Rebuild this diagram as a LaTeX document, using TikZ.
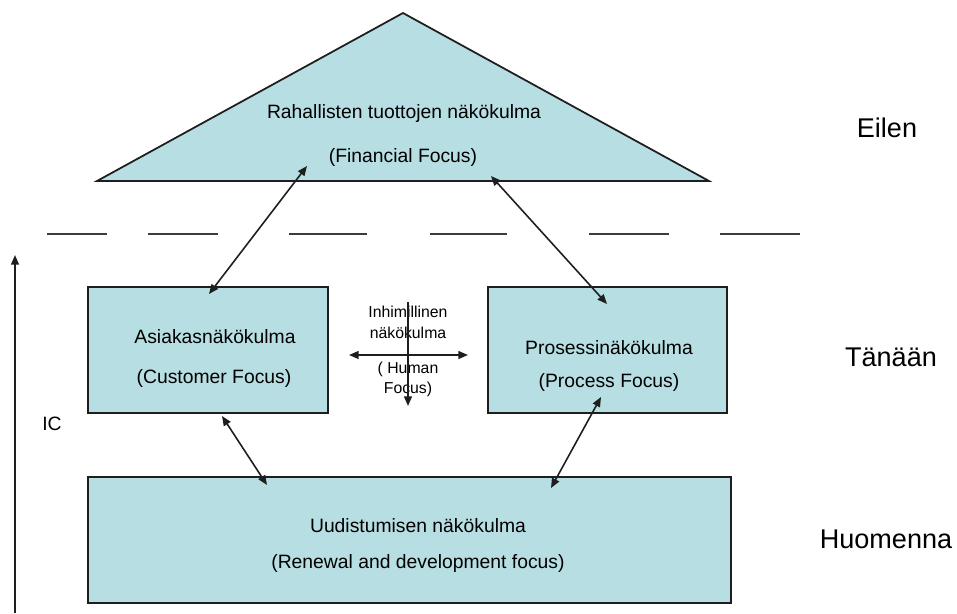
\documentclass[tikz,border=0pt]{standalone}
\usepackage{fontspec}
\setmainfont{Liberation Sans}
\usetikzlibrary{arrows.meta}
\definecolor{panel}{RGB}{183,222,226}
\definecolor{edge}{RGB}{30,30,30}
\definecolor{rule}{RGB}{60,60,60}
\begin{document}
\begin{tikzpicture}[x=0.02cm,y=-0.02cm,
  panelbox/.style={draw=edge, line width=1pt, fill=panel, minimum height=2.52cm, inner sep=0pt},
  txt/.style={font=\fontsize{11}{13}\selectfont, inner sep=0pt},
  bigtxt/.style={font=\fontsize{15.4}{18}\selectfont, inner sep=0pt},
  smalltxt/.style={font=\fontsize{9}{10}\selectfont, inner sep=0pt},
  onetip/.style={draw=edge, line width=0.9pt, -{Triangle[length=5.5pt,width=4.5pt]}},
  link/.style={draw=edge, line width=0.9pt, {Triangle[length=5.5pt,width=4.5pt]}-{Triangle[length=5.5pt,width=4.5pt]}},
  dashseg/.style={draw=rule, line width=1.2pt}]
\useasboundingbox (0,0) rectangle (957,613);

% financial perspective: the roof
\coordinate (apex) at (403,13);
\coordinate (roofL) at (97,181);
\coordinate (roofR) at (709,181);
\draw[draw=edge, line width=1pt, fill=panel, line join=miter] (roofL) -- (apex) -- (roofR) -- cycle;
\node[txt] (fin1) at (404,113) {Rahallisten tuottojen näkökulma};
\node[txt] (fin2) at (403,157) {(Financial Focus)};

% separator between yesterday and today
\foreach \a/\b [count=\i] in {47/107, 148/218, 289/367, 430/507, 589/669, 720/800}{
  \coordinate (dl\i) at (\a,234);
  \coordinate (dr\i) at (\b,234);
  \draw[dashseg] (dl\i) -- (dr\i);
}

% perspective boxes
\node[panelbox, minimum width=4.8cm] (cust) at (208,350) {};
\node[panelbox, minimum width=4.78cm] (proc) at (607.5,350) {};
\node[panelbox, minimum width=12.86cm] (renew) at (409.5,540) {};

\node[txt] (cust1) at (215,337) {Asiakasnäkökulma};
\node[txt] (cust2) at (214,378) {(Customer Focus)};
\node[txt] (proc1) at (609,348) {Prosessinäkökulma};
\node[txt] (proc2) at (609,382) {(Process Focus)};
\node[txt] (ren1) at (418,526) {Uudistumisen näkökulma};
\node[txt] (ren2) at (418,563) {(Renewal and development focus)};

% time labels
\node[bigtxt] (yday) at (887,128) {Eilen};
\node[bigtxt] (today) at (891,357) {Tänään};
\node[bigtxt] (tmrw) at (886,539) {Huomenna};

% intellectual capital axis
\coordinate (icBot) at (15,613);
\coordinate (icTop) at (15,255);
\draw[onetip] (icBot) -- (icTop);
\node[txt] (ic) at (52,424) {IC};

% human perspective cross
\node[smalltxt] (hum1) at (408,312) {Inhimillinen};
\node[smalltxt] (hum2) at (408,333) {näkökulma};
\node[smalltxt] (hum3) at (408,369) {( Human};
\node[smalltxt] (hum4) at (408,389) {Focus)};
\coordinate (hL) at (349,355);
\coordinate (hR) at (468,355);
\coordinate (vT) at (408,302);
\coordinate (vB) at (408,406);
\draw[link] (hL) -- (hR);
\draw[onetip] (vT) -- (vB);

% links between the perspectives
\coordinate (c1a) at (209,294);
\coordinate (c1b) at (307,166);
\coordinate (p1a) at (607,304);
\coordinate (p1b) at (491,176);
\coordinate (c2a) at (222,416);
\coordinate (c2b) at (267,485);
\coordinate (p2a) at (601,397);
\coordinate (p2b) at (551,488);
\draw[link] (c1a) -- (c1b);
\draw[link] (p1a) -- (p1b);
\draw[link] (c2a) -- (c2b);
\draw[link] (p2a) -- (p2b);
\end{tikzpicture}
\end{document}
